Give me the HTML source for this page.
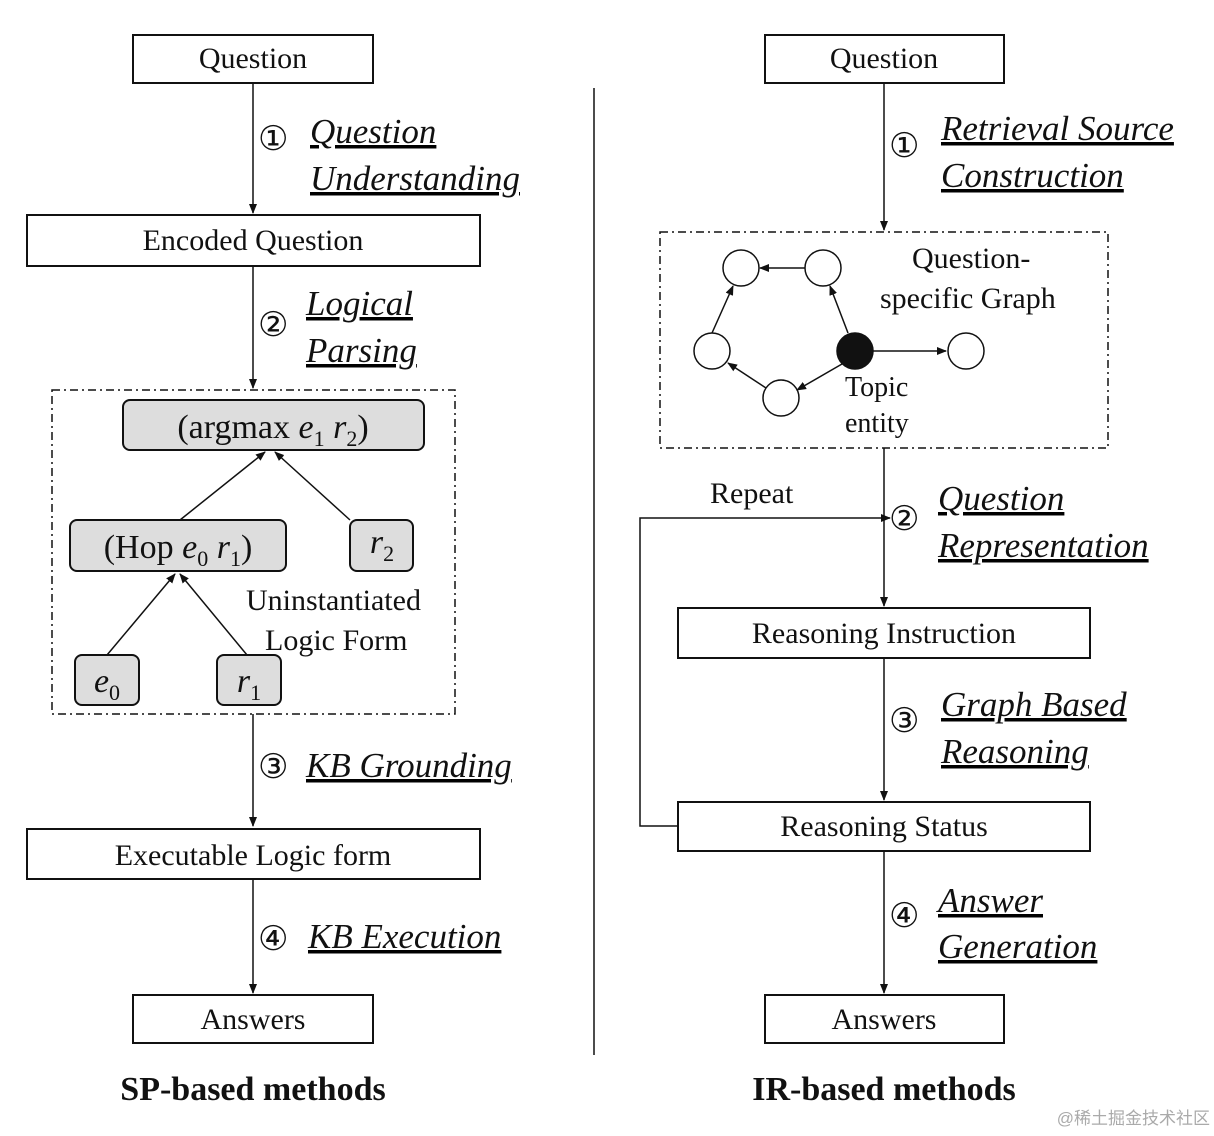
<!DOCTYPE html>
<html><head><meta charset="utf-8"><style>
body{margin:0;background:#fff}
svg{display:block}
text{font-family:"Liberation Serif",serif;fill:#111}
.b{font-size:30px}
.i{font-size:35px;font-style:italic}
.c{font-size:34px}
</style></head><body>
<svg width="1214" height="1136" viewBox="0 0 1214 1136" xmlns="http://www.w3.org/2000/svg">
<defs><marker id="a" markerWidth="10" markerHeight="10" refX="9" refY="5" orient="auto" markerUnits="userSpaceOnUse"><path d="M0,1 L10,5 L0,9 z" fill="#111"/></marker></defs>
<g stroke="#111" stroke-width="1.5" fill="none">
<rect x="133" y="35" width="240" height="48" stroke-width="2"/>
<rect x="27" y="215" width="453" height="51" stroke-width="2"/>
<rect x="52" y="390" width="403" height="324" stroke-dasharray="8,4,2,4"/>
<rect x="123" y="400" width="301" height="50" rx="7" fill="#ddd" stroke-width="2"/>
<rect x="70" y="520" width="216" height="51" rx="7" fill="#ddd" stroke-width="2"/>
<rect x="350" y="520" width="63" height="51" rx="7" fill="#ddd" stroke-width="2"/>
<rect x="75" y="655" width="64" height="50" rx="7" fill="#ddd" stroke-width="2"/>
<rect x="217" y="655" width="64" height="50" rx="7" fill="#ddd" stroke-width="2"/>
<rect x="27" y="829" width="453" height="50" stroke-width="2"/>
<rect x="133" y="995" width="240" height="48" stroke-width="2"/>
<line x1="253" y1="83" x2="253" y2="213" marker-end="url(#a)"/>
<line x1="253" y1="266" x2="253" y2="388" marker-end="url(#a)"/>
<line x1="253" y1="714" x2="253" y2="826" marker-end="url(#a)"/>
<line x1="253" y1="879" x2="253" y2="993" marker-end="url(#a)"/>
<line x1="180" y1="520" x2="265" y2="452" marker-end="url(#a)"/>
<line x1="350" y1="520" x2="275" y2="452" marker-end="url(#a)"/>
<line x1="107" y1="655" x2="175" y2="574" marker-end="url(#a)"/>
<line x1="247" y1="655" x2="180" y2="574" marker-end="url(#a)"/>
<line x1="594" y1="88" x2="594" y2="1055"/>
<rect x="765" y="35" width="239" height="48" stroke-width="2"/>
<rect x="660" y="232" width="448" height="216" stroke-dasharray="8,4,2,4"/>
<rect x="678" y="608" width="412" height="50" stroke-width="2"/>
<rect x="678" y="802" width="412" height="49" stroke-width="2"/>
<rect x="765" y="995" width="239" height="48" stroke-width="2"/>
<line x1="884" y1="83" x2="884" y2="230" marker-end="url(#a)"/>
<line x1="884" y1="448" x2="884" y2="606" marker-end="url(#a)"/>
<line x1="884" y1="658" x2="884" y2="800" marker-end="url(#a)"/>
<line x1="884" y1="851" x2="884" y2="993" marker-end="url(#a)"/>
<polyline points="678,826 640,826 640,518 890,518" marker-end="url(#a)"/>
<circle cx="741" cy="268" r="18"/><circle cx="823" cy="268" r="18"/>
<circle cx="712" cy="351" r="18"/><circle cx="855" cy="351" r="18" fill="#111"/>
<circle cx="966" cy="351" r="18"/><circle cx="781" cy="398" r="18"/>
<line x1="805" y1="268" x2="760" y2="268" marker-end="url(#a)"/>
<line x1="712" y1="333" x2="733" y2="286" marker-end="url(#a)"/>
<line x1="766" y1="388" x2="728" y2="363" marker-end="url(#a)"/>
<line x1="842" y1="364" x2="797" y2="390" marker-end="url(#a)"/>
<line x1="848" y1="333" x2="830" y2="286" marker-end="url(#a)"/>
<line x1="873" y1="351" x2="946" y2="351" marker-end="url(#a)"/>
</g>
<g class="b" text-anchor="middle">
<text x="253" y="68">Question</text>
<text x="253" y="250">Encoded Question</text>
<text x="253" y="865">Executable Logic form</text>
<text x="253" y="1029">Answers</text>
<text x="884" y="68">Question</text>
<text x="884" y="643">Reasoning Instruction</text>
<text x="884" y="836">Reasoning Status</text>
<text x="884" y="1029">Answers</text>
</g>
<g class="c" text-anchor="middle">
<text x="273" y="438">(argmax <tspan font-style="italic">e</tspan><tspan font-size="22" dy="8">1</tspan><tspan dy="-8"> </tspan><tspan font-style="italic">r</tspan><tspan font-size="22" dy="8">2</tspan><tspan dy="-8">)</tspan></text>
<text x="178" y="558">(Hop <tspan font-style="italic">e</tspan><tspan font-size="22" dy="8">0</tspan><tspan dy="-8"> </tspan><tspan font-style="italic">r</tspan><tspan font-size="22" dy="8">1</tspan><tspan dy="-8">)</tspan></text>
<text x="382" y="553"><tspan font-style="italic">r</tspan><tspan font-size="22" dy="8">2</tspan></text>
<text x="107" y="692"><tspan font-style="italic">e</tspan><tspan font-size="22" dy="8">0</tspan></text>
<text x="249" y="692"><tspan font-style="italic">r</tspan><tspan font-size="22" dy="8">1</tspan></text>
</g>
<g class="b">
<text x="246" y="610">Uninstantiated</text>
<text x="265" y="650">Logic Form</text>
<text x="912" y="268">Question-</text>
<text x="880" y="308">specific Graph</text>
<text x="845" y="396" font-size="28">Topic</text>
<text x="845" y="432" font-size="28">entity</text>
<text x="710" y="503">Repeat</text>
</g>
<g class="c">
<text x="258" y="150">①</text><text x="258" y="336">②</text><text x="258" y="778">③</text><text x="258" y="950">④</text>
<text x="889" y="157">①</text><text x="889" y="530">②</text><text x="889" y="732">③</text><text x="889" y="927">④</text>
</g>
<g class="i" text-decoration="underline">
<text x="310" y="143">Question</text><text x="310" y="190">Understanding</text>
<text x="306" y="315">Logical</text><text x="306" y="362">Parsing</text>
<text x="306" y="777">KB Grounding</text>
<text x="308" y="948">KB Execution</text>
<text x="941" y="140">Retrieval Source</text><text x="941" y="187">Construction</text>
<text x="938" y="510">Question</text><text x="938" y="557">Representation</text>
<text x="941" y="716">Graph Based</text><text x="941" y="763">Reasoning</text>
<text x="938" y="912">Answer</text><text x="938" y="958">Generation</text>
</g>
<g font-size="34" font-weight="bold" text-anchor="middle">
<text x="253" y="1100">SP-based methods</text>
<text x="884" y="1100">IR-based methods</text>
</g>
<text x="1210" y="1124" text-anchor="end" font-size="17" style="fill:#aaa;font-family:'Liberation Sans','Noto Sans CJK SC',sans-serif">@稀土掘金技术社区</text>
</svg>
</body></html>
